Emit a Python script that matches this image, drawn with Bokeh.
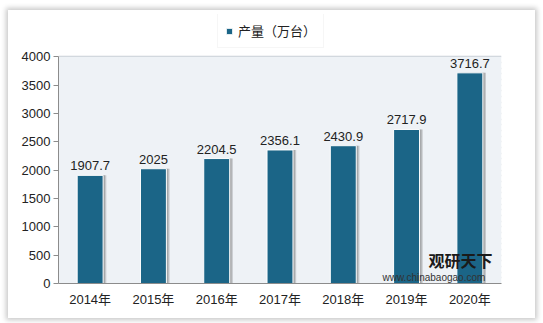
from bokeh.plotting import figure
from bokeh.models import (ColumnDataSource, Legend, LegendItem, FixedTicker,
                          Label, LabelSet, BoxAnnotation)
from bokeh.core.properties import value
from bokeh.transform import dodge
from bokeh.embed import file_html
from bokeh.resources import INLINE

years = ["2014年", "2015年", "2016年", "2017年", "2018年", "2019年", "2020年"]
output = [1907.7, 2025, 2204.5, 2356.1, 2430.9, 2717.9, 3716.7]
output_labels = ["1907.7", "2025", "2204.5", "2356.1", "2430.9", "2717.9", "3716.7"]
series_name = "产量（万台）"
y_ticks = [0, 500, 1000, 1500, 2000, 2500, 3000, 3500, 4000]
y_minor = [v for v in range(0, 4001, 100) if v % 500]

FONT = "Liberation Sans, Arial, Noto Sans CJK SC"
BAR = "#1b6587"

src = ColumnDataSource(dict(year=years, val=output, lab=output_labels))

p = figure(x_range=years, y_range=(0, 4746), width=527, height=308,
           output_backend="svg", toolbar_location=None,
           min_border_left=50, min_border_right=34, min_border_top=4,
           min_border_bottom=35)
p.margin = (10, 8, 5, 8)
p.styles = {"box-shadow": "0 0 5px 2px rgba(0,0,0,0.22)"}
p.outline_line_color = None
p.background_fill_color = "white"
p.border_fill_color = "white"

p.add_layout(BoxAnnotation(bottom=0, top=4000, fill_color="#eef2f6", fill_alpha=1,
                           line_color=None, level="underlay"))

# grid stripes
p.yaxis.ticker = FixedTicker(ticks=y_ticks)
p.ygrid.ticker = FixedTicker(ticks=y_ticks, minor_ticks=y_minor)
p.ygrid.grid_line_color = "#c9cfd6"
p.ygrid.grid_line_width = 1.5
p.ygrid.minor_grid_line_color = "#c9cfd6"
p.ygrid.minor_grid_line_width = 1.5
p.xgrid.grid_line_color = None

# bar shadows
p.vbar(x=dodge("year", 0.05, range=p.x_range), top="val", width=0.41, source=src,
       fill_color="#555555", fill_alpha=0.25, line_color=None)
p.vbar(x=dodge("year", 0.03, range=p.x_range), top="val", width=0.41, source=src,
       fill_color="#555555", fill_alpha=0.3, line_color=None)
bars = p.vbar(x="year", top="val", width=0.41, source=src,
              fill_color=BAR, line_color="white", line_width=1)

labels = LabelSet(x="year", y="val", text="lab", source=src, y_offset=5,
                  text_align="center", text_baseline="bottom",
                  text_font_size=value("13px"), text_color=value("#222222"),
                  text_font=value(FONT))
p.add_layout(labels)

# axes
for ax in (p.xaxis, p.yaxis):
    ax.axis_line_color = "#8c8c8c"
    ax.major_label_text_font_size = "13px"
    ax.major_label_text_color = "#222222"
    ax.major_label_text_font = FONT
    ax.minor_tick_line_color = None
p.yaxis.bounds = (0, 4000)
p.yaxis.major_tick_line_color = "#8c8c8c"
p.yaxis.major_tick_out = 5
p.yaxis.major_tick_in = 0
p.yaxis.major_label_standoff = 3
p.xaxis.major_tick_line_color = None
p.xaxis.major_label_standoff = 2

legend = Legend(items=[LegendItem(label=series_name, renderers=[bars])],
                location=(159, 235), orientation="horizontal",
                label_text_font_size="13px", label_text_color="#222222",
                label_text_font=FONT, glyph_width=8, glyph_height=8,
                border_line_color="#eeeeee", background_fill_color="white",
                padding=7, margin=0, label_standoff=5)
p.add_layout(legend)

# watermark
p.add_layout(Label(x=370, y=12, x_units="screen", y_units="screen", text="观研天下",
                   text_font="Noto Sans CJK SC", text_font_style="bold",
                   text_font_size="16px", text_color="#1a1a1a"))
p.add_layout(Label(x=324, y=1, x_units="screen", y_units="screen",
                   text="www.chinabaogao.com", text_font=FONT,
                   text_font_size="10px", text_color="#333333"))

open("out.html", "w").write(file_html(p, INLINE))
